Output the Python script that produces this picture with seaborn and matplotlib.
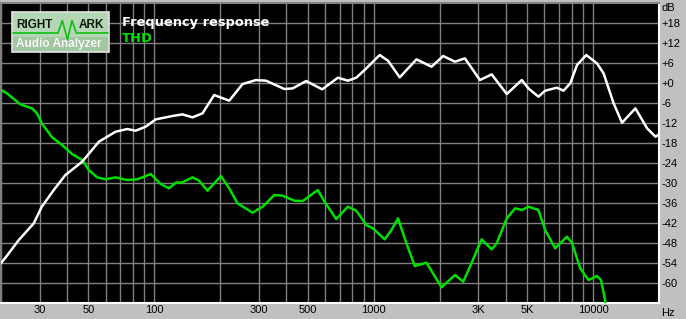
import numpy as np
import pandas as pd
import matplotlib
matplotlib.use("Agg")
import matplotlib.pyplot as plt
from matplotlib.patches import Rectangle
from matplotlib.lines import Line2D
import seaborn as sns

# ---- data ----
fr_freq = [20, 20.9, 24.1, 28.2, 30.7, 34.8, 39.3, 46.9, 55.9, 66.6, 75.3, 82.2, 91.3,
           101.5, 120.9, 134.3, 149.2, 165.8, 187.5, 219.6, 252.6, 290.9, 323.2, 391.8,
           427.6, 492.4, 582.8, 686.9, 763.1, 833.7, 926, 1065, 1163, 1315, 1568, 1836,
           2075, 2347, 2607, 3052, 3453, 4045, 4737, 5077, 5641, 6053, 6846, 7337, 7876,
           8455, 9320, 10430, 11180, 12420, 13570, 15610, 17660, 19270, 20000]
fr_db = [-54.1, -52.6, -47.2, -42.2, -37.2, -32.2, -27.7, -23.7, -17.7, -14.7, -13.9, -14.4,
         -13.2, -11.0, -10.0, -9.5, -10.4, -9.2, -3.7, -5.4, -0.4, 0.8, 0.6, -1.9, -1.7, 0.5,
         -2.0, 1.5, 0.6, 1.5, 4.3, 8.3, 6.6, 1.6, 7.0, 4.8, 8.0, 6.3, 7.3, 0.8, 2.5, -3.4, 0.8,
         -1.7, -4.2, -2.4, -1.5, -2.4, -0.2, 5.3, 8.3, 5.8, 2.8, -6.2, -12.0, -7.7, -13.7,
         -16.2, -15.5]

thd_freq = [20, 21.3, 24.5, 27.7, 29.2, 30.7, 34.2, 38.0, 42.2, 46.9, 50.3, 54.9, 59.9, 66.6,
            75.3, 83.6, 96.3, 107, 116.7, 125.3, 134.3, 149.2, 160.1, 174.7, 201.2, 219.6,
            239.6, 280.6, 311.7, 352.6, 384.9, 435.4, 475.0, 556.5, 597.0, 675.2, 763.1,
            833.7, 926, 992.7, 1123, 1205, 1292, 1411, 1540, 1742, 2040, 2347, 2561, 2748,
            3108, 3453, 3639, 4045, 4414, 4737, 5077, 5641, 6053, 6724, 7604, 8017, 8749,
            9548, 10430, 10880, 11380, 11600]
thd_db = [-2.2, -3.2, -6.5, -7.7, -9.2, -12.2, -16.4, -18.7, -21.4, -23.2, -26.2, -28.4, -29.0,
          -28.4, -29.2, -29.0, -27.4, -30.4, -31.7, -30.0, -29.9, -28.4, -29.4, -32.4, -28.0,
          -31.7, -36.2, -39.0, -37.2, -33.7, -33.9, -35.4, -35.5, -32.2, -35.7, -40.9, -37.2,
          -38.4, -42.7, -43.7, -47.0, -44.2, -40.7, -48.2, -55.0, -54.0, -61.4, -57.7, -59.7,
          -55.2, -47.0, -50.0, -48.2, -40.7, -37.7, -38.2, -37.2, -38.2, -44.2, -49.7, -46.2,
          -48.0, -55.7, -59.2, -58.0, -59.2, -65.5, -70.0]

x_tick_vals = [30, 50, 100, 300, 500, 1000, 3000, 5000, 10000]
x_tick_labels = ["30", "50", "100", "300", "500", "1000", "3K", "5K", "10000"]
y_tick_vals = list(range(-60, 19, 6))
y_tick_labels = [("+%d" % v) if v >= 0 else ("%d" % v) for v in y_tick_vals]

# ---- figure ----
W, H = 686, 319
sns.set_style("dark")
plt.rcParams['font.family'] = ['Liberation Sans', 'DejaVu Sans']
BG = '#c0c0c0'
fig = plt.figure(figsize=(W / 100, H / 100), dpi=100, facecolor=BG)
ax = fig.add_axes([1 / W, 1 - 302.7 / H, (659 - 1) / W, (302.7 - 2.7) / H])
ax.set_facecolor('black')

fr = pd.DataFrame({"freq": fr_freq, "db": fr_db})
thd = pd.DataFrame({"freq": thd_freq, "db": thd_db})

# grid
ax.set_xscale('log')
ax.set_xlim(20, 20000)
ax.set_ylim(-66, 24)
grid_x = [m * 10 ** d for d in range(1, 5) for m in range(1, 10) if 20 <= m * 10 ** d <= 20000]
for gx in grid_x:
    ax.axvline(gx, color='#808080', lw=1.0, zorder=1)
for gy in range(-60, 24, 6):
    ax.axhline(gy, color='#808080', lw=1.0, zorder=1)

sns.lineplot(data=thd, x="freq", y="db", ax=ax, color='#00e000', lw=1.8, zorder=3,
             sort=False, estimator=None, solid_joinstyle='round', solid_capstyle='round')
sns.lineplot(data=fr, x="freq", y="db", ax=ax, color='white', lw=1.8, zorder=4,
             sort=False, estimator=None, solid_joinstyle='round', solid_capstyle='round')

ax.grid(False)
ax.set_xlabel("")
ax.set_ylabel("")
ax.xaxis.set_minor_locator(matplotlib.ticker.NullLocator())
ax.set_xticks(x_tick_vals)
ax.set_xticklabels(x_tick_labels)
ax.set_yticks(y_tick_vals)
ax.set_yticklabels(y_tick_labels)
ax.yaxis.tick_right()
ax.tick_params(axis='both', length=0, labelsize=8, colors='black')
ax.tick_params(axis='y', pad=2)
ax.tick_params(axis='x', pad=1.5)

for s in ['left', 'top']:
    ax.spines[s].set_color('#808080')
    ax.spines[s].set_linewidth(1.5)
for s in ['right', 'bottom']:
    ax.spines[s].set_color('white')
    ax.spines[s].set_linewidth(1.5)

def fx(x):
    return x / W

def fy(y):
    return 1 - y / H

fig.text(fx(661), fy(8), "dB", fontsize=8, va='center', ha='left', color='black')
fig.text(fx(661), fy(313), "Hz", fontsize=8, va='center', ha='left', color='black')

# logo
fig.patches.append(Rectangle((fx(12), fy(52)), (109 - 12) / W, (52 - 12) / H,
                             transform=fig.transFigure, facecolor='#b4d6b4',
                             edgecolor='#e4e4e4', lw=1.2, zorder=5))
fig.patches.append(Rectangle((fx(13), fy(51)), (108 - 13) / W, (51 - 37) / H,
                             transform=fig.transFigure, facecolor='#a2c8a2',
                             edgecolor='none', lw=0, zorder=5))
fig.text(fx(16), fy(25.5), "RIGHT", fontsize=8.5, fontweight='bold', color='#0c1a0c',
         va='center', ha='left', zorder=6)
fig.text(fx(79), fy(25.5), "ARK", fontsize=8.5, fontweight='bold', color='#0c1a0c',
         va='center', ha='left', zorder=6)
lx = [13, 58, 62.3, 67.5, 72, 76.3, 108]
ly = [33.0, 33.0, 20.5, 39.5, 20.5, 33.0, 33.0]
fig.lines.append(Line2D([fx(v) for v in lx], [fy(v) for v in ly], transform=fig.transFigure,
                        color='#10c010', lw=1.2, zorder=6))
fig.text(fx(16.5), fy(44.5), "Audio Analyzer", fontsize=8.5, fontweight='bold',
         color='#7a9a7a', va='center', ha='left', zorder=6)
fig.text(fx(16), fy(44), "Audio Analyzer", fontsize=8.5, fontweight='bold', color='white',
         va='center', ha='left', zorder=7)

fig.text(fx(122), fy(22.5), "Frequency response", fontsize=9.4, fontweight='bold',
         color='white', family=['DejaVu Sans'], va='center', ha='left')
fig.text(fx(122), fy(38.5), "THD", fontsize=9.4, fontweight='bold', color='#00e000',
         family=['DejaVu Sans'], va='center', ha='left')

fig.savefig("out.png", dpi=100, facecolor=BG)
